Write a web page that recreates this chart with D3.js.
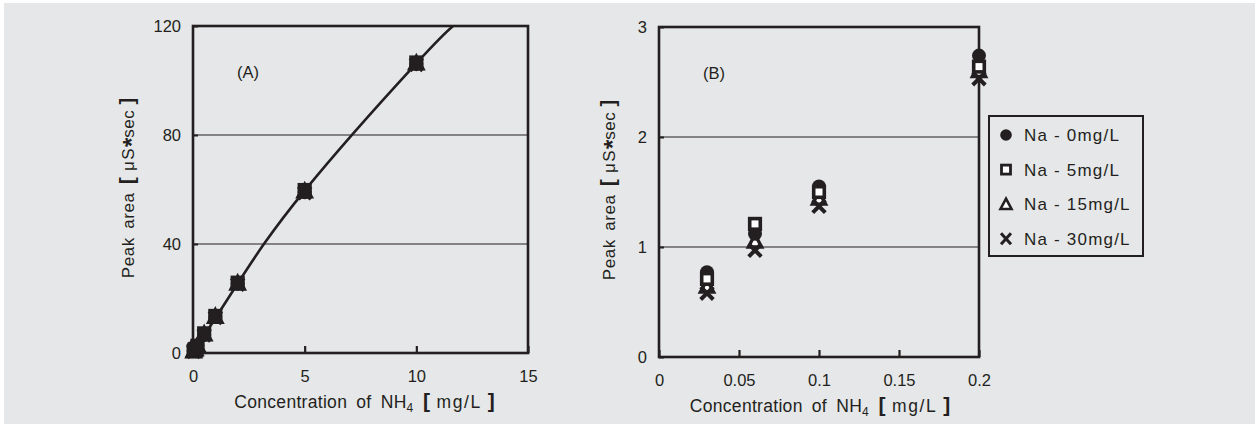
<!DOCTYPE html>
<meta charset="utf-8">
<head>
<script src="https://d3js.org/d3.v7.min.js"></script>
<style>
  body { margin: 0; background: #fff; }
  text { font-family: "Liberation Sans", Arial, sans-serif; fill: #231f20; }
</style>
</head>
<body>
<svg id="chart" width="1259" height="427"></svg>
<script>

// concentrations of NH4 (mg/L)
var conc = [0.03, 0.06, 0.1, 0.2, 0.5, 1, 2, 5, 10];
// peak area for each Na level
var na0  = [0.77, 1.12, 1.55, 2.74, 6.6, 13.2, 25.4, 59.0, 106.0];
var na5  = [0.71, 1.21, 1.50, 2.64, 7.2, 13.6, 25.8, 59.8, 106.6];
var na15 = [0.64, 1.05, 1.44, 2.60, 6.9, 13.3, 25.5, 59.3, 106.3];
var na30 = [0.58, 0.97, 1.37, 2.53, 6.6, 13.0, 25.2, 58.8, 105.9];

// calibration curve in (A)
var curveX = [0, 2, 5, 10, 11.65];
var curveY = [0, 25.5, 59.6, 106.3, 120];

var xTicksA = [0, 5, 10, 15], yTicksA = [0, 40, 80, 120];
var xTicksB = [0, 0.05, 0.1, 0.15, 0.2], yTicksB = [0, 1, 2, 3];
var legendLabels = ["Na - 0mg/L", "Na - 5mg/L", "Na - 15mg/L", "Na - 30mg/L"];

const INK = "#231f20";

var svg = d3.select("#chart");
svg.append("rect").attr("x", 4).attr("y", 3).attr("width", 1251).attr("height", 421).attr("fill", "#e6e7e8");

var series = [
  {key: "circle", vals: na0},
  {key: "square", vals: na5},
  {key: "triangle", vals: na15},
  {key: "cross", vals: na30}
];

function drawMarker(g, type, x, y) {
  if (type == "circle") {
    g.append("circle").attr("cx", x).attr("cy", y).attr("r", 7).attr("fill", INK);
  } else if (type == "square") {
    g.append("rect").attr("x", x - 5.3).attr("y", y - 5.3).attr("width", 10.6).attr("height", 10.6)
      .attr("fill", "#fff").attr("stroke", INK).attr("stroke-width", 3.6);
  } else if (type == "triangle") {
    g.append("path").attr("d", "M" + x + "," + (y - 7) + "L" + (x + 6.6) + "," + (y + 5.5) + "L" + (x - 6.6) + "," + (y + 5.5) + "Z")
      .attr("fill", "#fff").attr("stroke", INK).attr("stroke-width", 3.4).attr("stroke-linejoin", "miter");
  } else {
    g.append("path").attr("d", "M" + (x - 6.3) + "," + (y - 6.3) + "L" + (x + 6.3) + "," + (y + 6.3) + "M" + (x + 6.3) + "," + (y - 6.3) + "L" + (x - 6.3) + "," + (y + 6.3))
      .attr("stroke", INK).attr("stroke-width", 4);
  }
}

function panel(opt) {
  var x = d3.scaleLinear().domain(opt.xd).range([opt.left, opt.right]);
  var y = d3.scaleLinear().domain(opt.yd).range([opt.bottom, opt.top]);
  var g = svg.append("g");

  // gridlines
  g.selectAll(".grid").data(opt.yt.slice(1, -1)).enter().append("line")
    .attr("x1", opt.left).attr("x2", opt.right)
    .attr("y1", d => y(d)).attr("y2", d => y(d))
    .attr("stroke", INK).attr("stroke-width", 1.2);

  // y axis ticks (small stubs) and labels
  g.append("g").attr("transform", "translate(" + opt.left + ",0)")
    .call(d3.axisLeft(y).tickValues(opt.yt).tickSize(-5).tickPadding(12).tickFormat(d3.format("")))
    .call(a => a.select(".domain").remove())
    .call(a => a.selectAll("line").attr("stroke", INK).attr("stroke-width", 2))
    .call(a => a.selectAll("text").attr("font-size", 16.5).attr("fill", INK).style("font-family", "Liberation Sans, Arial"));

  // x axis ticks (inward) and labels
  g.append("g").attr("transform", "translate(0," + opt.bottom + ")")
    .call(d3.axisBottom(x).tickValues(opt.xt).tickSize(-7).tickPadding(17).tickFormat(d3.format("")))
    .call(a => a.select(".domain").remove())
    .call(a => a.selectAll("line").attr("stroke", INK).attr("stroke-width", 2.2))
    .call(a => a.selectAll("text").attr("font-size", 16.5).attr("fill", INK).style("font-family", "Liberation Sans, Arial"));

  // frame
  g.append("rect").attr("x", opt.left).attr("y", opt.top)
    .attr("width", opt.right - opt.left).attr("height", opt.bottom - opt.top)
    .attr("fill", "none").attr("stroke", INK).attr("stroke-width", 2.6);

  // panel letter
  g.append("text").attr("x", opt.left + 44).attr("y", opt.top + 52).attr("font-size", 16.5).text(opt.letter);

  // x label
  var xl = g.append("text").attr("x", (opt.left + opt.right) / 2 + opt.xlShift).attr("y", opt.bottom + 55)
    .attr("text-anchor", "middle").attr("font-size", 17.5).attr("word-spacing", 4);
  xl.append("tspan").attr("letter-spacing", 0.3).text("Concentration of NH");
  xl.append("tspan").attr("font-size", 12).attr("dy", 4).text("4");
  xl.append("tspan").attr("dy", -4).attr("font-weight", "bold").attr("font-size", 21).text(" [");
  xl.append("tspan").attr("letter-spacing", 1.6).attr("word-spacing", 0).text(" mg/L ");
  xl.append("tspan").attr("font-weight", "bold").attr("font-size", 21).text("]");

  // y label
  var yl = g.append("text").attr("transform", "translate(" + opt.ylx + "," + opt.yly + ") rotate(-90)")
    .attr("text-anchor", "middle").attr("font-size", 17).attr("word-spacing", 3);
  yl.append("tspan").attr("letter-spacing", 0.6).text("Peak area ");
  yl.append("tspan").attr("font-weight", "bold").attr("font-size", 20).text("[");
  yl.append("tspan").attr("letter-spacing", 1.5).attr("word-spacing", 0).text(" μS");
  yl.append("tspan").attr("font-weight", "bold").attr("font-size", 24).attr("dy", 6).text("*");
  yl.append("tspan").attr("dy", -6).attr("letter-spacing", 0.5).attr("word-spacing", 0).text("sec ");
  yl.append("tspan").attr("font-weight", "bold").attr("font-size", 20).text("]");

  var plot = g.append("g");
  if (opt.curve) {
    var pts = curveX.map((d, i) => [d, curveY[i]]);
    plot.append("path").datum(pts)
      .attr("d", d3.line().x(d => x(d[0])).y(d => y(d[1])).curve(d3.curveNatural))
      .attr("fill", "none").attr("stroke", INK).attr("stroke-width", 2.6);
  }
  var markerG = plot.append("g");
  opt.order.forEach(function(k) {
    var s = series.find(s => s.key == k);
    conc.forEach(function(c, i) {
      if (c <= opt.xd[1]) drawMarker(markerG, k, x(c), y(s.vals[i]));
    });
  });
  return g;
}

panel({xd: [0, 15], yd: [0, 120], xt: xTicksA, yt: yTicksA,
  left: 193, right: 528, top: 26, bottom: 353, letter: "(A)", curve: true,
  order: ["square", "triangle", "cross", "circle"], xlShift: 4, ylx: 134, yly: 188});

panel({xd: [0, 0.2], yd: [0, 3], xt: xTicksB, yt: yTicksB,
  left: 659, right: 979, top: 27, bottom: 357, letter: "(B)", curve: false,
  order: ["triangle", "cross", "circle", "square"], xlShift: 1, ylx: 615, yly: 190});

// legend
var leg = svg.append("g");
leg.append("rect").attr("x", 989).attr("y", 116).attr("width", 154).attr("height", 140)
  .attr("fill", "none").attr("stroke", INK).attr("stroke-width", 2);
legendLabels.forEach(function(t, i) {
  var cy = 135 + i * 34.6;
  var k = series[i].key;
  if (k == "circle") leg.append("circle").attr("cx", 1006).attr("cy", cy).attr("r", 5.8).attr("fill", INK);
  else if (k == "square") leg.append("rect").attr("x", 1001.5).attr("y", cy - 4.5).attr("width", 9).attr("height", 9)
      .attr("fill", "#fff").attr("stroke", INK).attr("stroke-width", 2.8);
  else if (k == "triangle") leg.append("path").attr("d", "M1006," + (cy - 5.5) + "L1011.5," + (cy + 4.8) + "L1000.5," + (cy + 4.8) + "Z")
      .attr("fill", "#fff").attr("stroke", INK).attr("stroke-width", 2.6);
  else leg.append("path").attr("d", "M1001," + (cy - 5.5) + "L1011," + (cy + 5.5) + "M1011," + (cy - 5.5) + "L1001," + (cy + 5.5))
      .attr("stroke", INK).attr("stroke-width", 3);
  leg.append("text").attr("x", 1024).attr("y", cy + 6).attr("font-size", 17).attr("letter-spacing", 1.2).text(t);
});

</script>
</body>
